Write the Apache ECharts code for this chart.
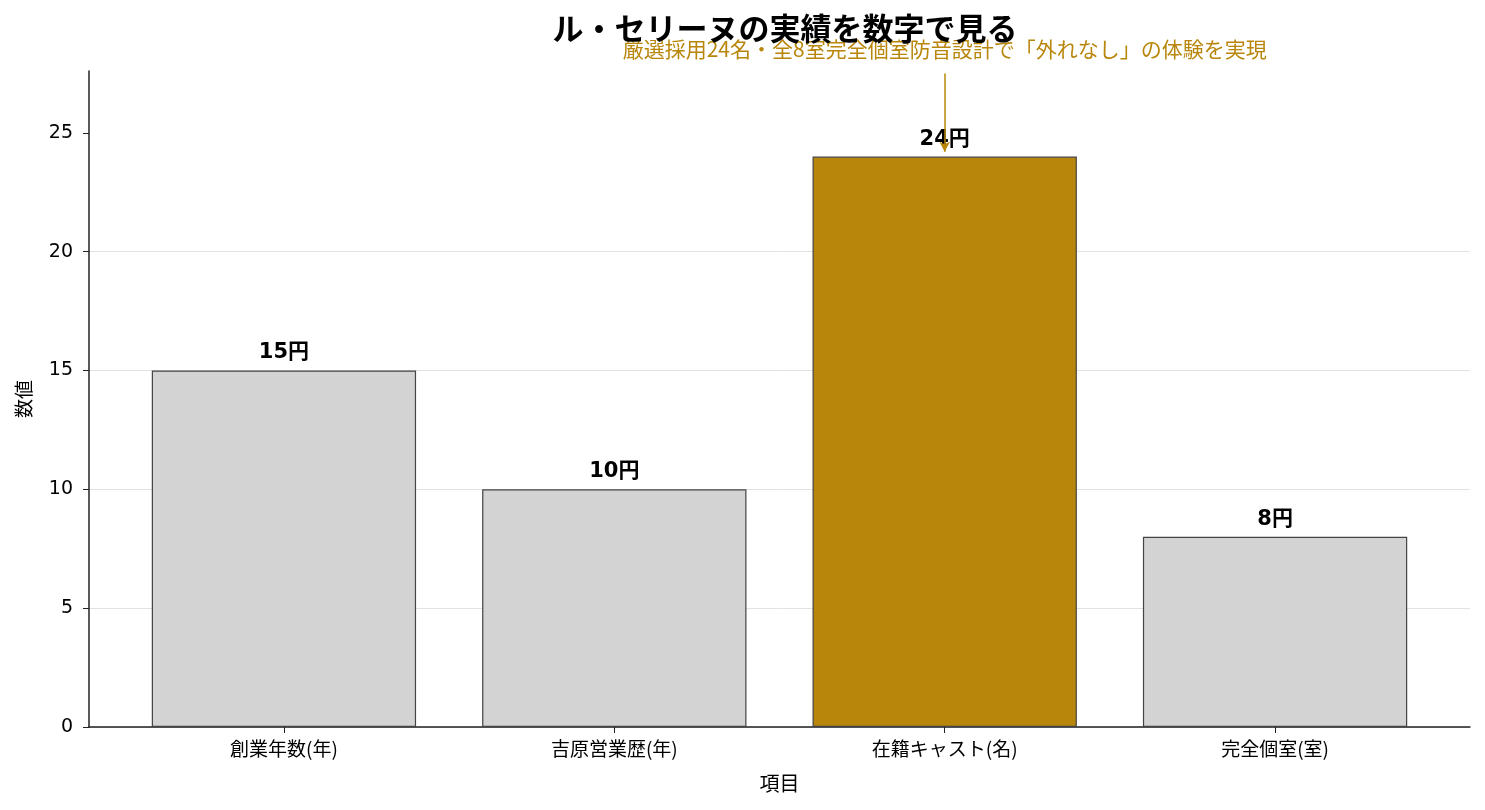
<!DOCTYPE html>
<html>
<head>
<meta charset="utf-8">
<script src="https://cdn.jsdelivr.net/npm/echarts@6/dist/echarts.min.js"></script>
<style>
html, body { margin: 0; padding: 0; background: #fff; }
#chart { width: 1485px; height: 810px; }
</style>
</head>
<body>
<div id="chart"></div>
<script>
// chart data
const categories = ['創業年数(年)', '吉原営業歴(年)', '在籍キャスト(名)', '完全個室(室)'];
const values = [15, 10, 24, 8];
const highlightIndex = 2;
const yTicks = [0, 5, 10, 15, 20, 25];
const xTicks = [0, 1, 2, 3];
const titleText = 'ル・セリーヌの実績を数字で見る';
const noteText = '厳選採用24名・全8室完全個室防音設計で「外れなし」の体験を実現';
const noteFrom = 27.5;
const noteTo = 24.2;

const FONT = '"Noto Sans CJK JP", "Noto Sans", sans-serif';
const NUMFONT = '"DejaVu Sans", "Noto Sans CJK JP", sans-serif';
const GOLD = '#b8860b';

let chart = echarts.init(document.getElementById('chart'));

// bars sit on integer positions of a value axis, like matplotlib's padded category axis
let barData = values.map(function (v, i) {
    return {
        value: [i, v],
        itemStyle: {
            color: i === highlightIndex ? GOLD : '#d3d3d3'
        }
    };
});

chart.setOption({
    animation: false,
    title: {
        text: titleText,
        left: 780,
        top: 8,
        textAlign: 'center',
        textStyle: {
            fontFamily: FONT,
            fontSize: 31,
            fontWeight: 'bold',
            color: '#000'
        }
    },
    grid: {
        left: 89,
        right: 15,
        top: 71,
        bottom: 83
    },
    xAxis: {
        type: 'value',
        min: -0.59,
        max: 3.59,
        name: '項目',
        nameLocation: 'middle',
        nameGap: 46,
        nameTextStyle: { fontFamily: FONT, fontSize: 20, color: '#000' },
        axisLine: { show: true, onZero: false, lineStyle: { color: '#222', width: 1.5 } },
        axisTick: { show: true, length: 6, customValues: xTicks, lineStyle: { color: '#222' } },
        axisLabel: {
            fontFamily: FONT,
            fontSize: 19,
            color: '#000',
            margin: 12,
            customValues: xTicks,
            formatter: function (v) { return categories[Math.round(v)]; }
        },
        splitLine: { show: false }
    },
    yAxis: {
        type: 'value',
        min: 0,
        max: 27.6,
        interval: 5,
        name: '数値',
        nameLocation: 'middle',
        nameRotate: 90,
        nameGap: 56,
        nameTextStyle: { fontFamily: FONT, fontSize: 19, color: '#000' },
        axisLine: { show: true, onZero: false, lineStyle: { color: '#222', width: 1.5 } },
        axisTick: { show: true, length: 6, customValues: yTicks, lineStyle: { color: '#222' } },
        axisLabel: { fontFamily: NUMFONT, fontSize: 19, color: '#000', margin: 16, customValues: yTicks },
        splitLine: { show: true, showMaxLine: false, lineStyle: { color: '#e2e2e2', width: 1 } }
    },
    series: [
        {
            type: 'bar',
            data: barData,
            barWidth: '80%',
            itemStyle: { borderColor: '#444', borderWidth: 1.2 },
            label: {
                show: true,
                position: 'top',
                distance: 7,
                formatter: function (p) { return p.value[1] + '円'; },
                fontFamily: NUMFONT,
                fontSize: 21,
                fontWeight: 'bold',
                color: '#000'
            },
            markLine: {
                silent: true,
                symbol: ['none', 'arrow'],
                symbolSize: [8, 10],
                lineStyle: { color: GOLD, width: 1.5, type: 'solid' },
                label: {
                    show: true,
                    position: 'start',
                    distance: 14,
                    formatter: noteText,
                    fontFamily: FONT,
                    fontSize: 21,
                    color: GOLD
                },
                data: [
                    [
                        { coord: [highlightIndex, noteFrom] },
                        { coord: [highlightIndex, noteTo] }
                    ]
                ]
            }
        }
    ]
});
</script>
</body>
</html>
